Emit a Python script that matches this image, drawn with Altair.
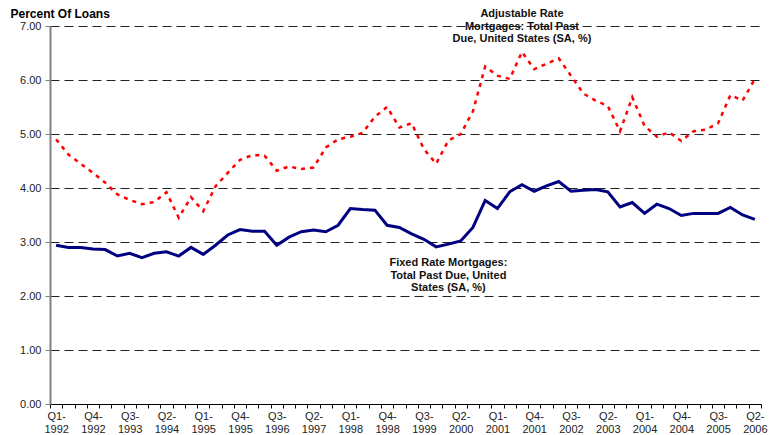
import altair as alt
import pandas as pd

quarters = [
    "Q1-1992", "Q2-1992", "Q3-1992", "Q4-1992",
    "Q1-1993", "Q2-1993", "Q3-1993", "Q4-1993",
    "Q1-1994", "Q2-1994", "Q3-1994", "Q4-1994",
    "Q1-1995", "Q2-1995", "Q3-1995", "Q4-1995",
    "Q1-1996", "Q2-1996", "Q3-1996", "Q4-1996",
    "Q1-1997", "Q2-1997", "Q3-1997", "Q4-1997",
    "Q1-1998", "Q2-1998", "Q3-1998", "Q4-1998",
    "Q1-1999", "Q2-1999", "Q3-1999", "Q4-1999",
    "Q1-2000", "Q2-2000", "Q3-2000", "Q4-2000",
    "Q1-2001", "Q2-2001", "Q3-2001", "Q4-2001",
    "Q1-2002", "Q2-2002", "Q3-2002", "Q4-2002",
    "Q1-2003", "Q2-2003", "Q3-2003", "Q4-2003",
    "Q1-2004", "Q2-2004", "Q3-2004", "Q4-2004",
    "Q1-2005", "Q2-2005", "Q3-2005", "Q4-2005",
    "Q1-2006", "Q2-2006",
]

fixed_rate = [
    2.94, 2.90, 2.90, 2.87, 2.86, 2.74, 2.79, 2.71, 2.79, 2.82,
    2.74, 2.90, 2.77, 2.94, 3.13, 3.23, 3.20, 3.20, 2.94, 3.09,
    3.19, 3.22, 3.19, 3.31, 3.62, 3.60, 3.59, 3.31, 3.27, 3.15,
    3.05, 2.91, 2.96, 3.02, 3.27, 3.77, 3.62, 3.93, 4.06, 3.94,
    4.04, 4.12, 3.94, 3.96, 3.97, 3.93, 3.65, 3.73, 3.53, 3.70,
    3.62, 3.49, 3.53, 3.53, 3.53, 3.64, 3.50, 3.42,
]

adjustable_rate = [
    4.90, 4.62, 4.45, 4.28, 4.10, 3.88, 3.78, 3.70, 3.74, 3.92,
    3.45, 3.83, 3.57, 4.03, 4.28, 4.52, 4.61, 4.60, 4.32, 4.40,
    4.35, 4.38, 4.75, 4.90, 4.95, 5.02, 5.32, 5.50, 5.12, 5.20,
    4.72, 4.45, 4.88, 5.00, 5.42, 6.25, 6.08, 6.02, 6.52, 6.20,
    6.30, 6.40, 6.08, 5.75, 5.62, 5.52, 5.05, 5.68, 5.15, 4.95,
    5.03, 4.87, 5.05, 5.08, 5.20, 5.72, 5.62, 6.02,
]

y_ticks = [0, 1, 2, 3, 4, 5, 6, 7]

arm_label = "Adjustable Rate\nMortgages: Total Past\nDue, United States (SA, %)"
frm_label = "Fixed Rate Mortgages:\nTotal Past Due, United\nStates (SA, %)"

df = pd.DataFrame({"q": quarters, "fixed": fixed_rate, "arm": adjustable_rate})
ann = pd.DataFrame({
    "q": ["Q3-2001", "Q1-2000"],
    "v": [7.22, 2.61],
    "t": [arm_label, frm_label],
})

FONT = "Liberation Sans"

label_expr = (
    "(((toNumber(substring(datum.value,3,7))-1992)*4 + toNumber(substring(datum.value,1,2)) - 1) % 3 == 0)"
    " ? [substring(datum.value,0,3), substring(datum.value,3,7)] : ''"
)

x_enc = alt.X(
    "q:O",
    sort=quarters,
    bandPosition=0.5,
    scale=alt.Scale(type="band", paddingInner=0, paddingOuter=0, domain=quarters),
    axis=alt.Axis(
        title=None,
        tickBand="extent",
        labelExpr=label_expr,
        labelAngle=0,
        labelOverlap=False,
        labelBound=False,
        labelFont=FONT,
        labelFontSize=11,
        labelColor="#222222",
        labelLineHeight=13,
        labelPadding=2,
        tickSize=4,
        tickColor="#000000",
        domainColor="#000000",
        domainWidth=1,
        grid=False,
    ),
)

y_scale = alt.Scale(domain=[0, 7], nice=False)

base = alt.Chart(df)

grid_axis = alt.Axis(
    values=y_ticks,
    format=".2f",
    title="Percent Of Loans",
    titleAngle=0,
    titleAlign="left",
    titleBaseline="middle",
    titleX=-40,
    titleY=-13,
    titleFont=FONT,
    titleFontSize=12,
    titleFontWeight="bold",
    titleColor="#000000",
    labelFont=FONT,
    labelFontSize=11,
    labelColor="#222222",
    labelPadding=4,
    tickSize=5,
    tickColor="#808080",
    domainColor="#808080",
    domainWidth=2,
    grid=True,
    gridColor="#222222",
    gridDash=[9, 5],
    gridWidth=1,
)

fixed_line = base.mark_line(color="#000080", strokeWidth=3).encode(
    x=x_enc,
    y=alt.Y("fixed:Q", scale=y_scale, axis=grid_axis),
)

arm_line = base.mark_line(color="#FF0000", strokeWidth=2.5, strokeDash=[4, 5]).encode(
    x=x_enc,
    y=alt.Y("arm:Q", scale=y_scale),
)

labels = alt.Chart(ann).mark_text(
    font=FONT,
    fontSize=11,
    fontWeight="bold",
    color="#111111",
    lineBreak="\n",
    lineHeight=12.5,
    align="center",
    baseline="middle",
).encode(
    x=alt.X("q:O", sort=quarters, bandPosition=0.5),
    y=alt.Y("v:Q", scale=y_scale),
    text="t:N",
)

chart = (
    alt.layer(fixed_line, arm_line, labels)
    .properties(
        width=711,
        height=378,
        autosize=alt.AutoSizeParams(type="none"),
        padding={"left": 42, "top": 18, "right": 8, "bottom": 30},
        background="#ffffff",
    )
    .configure_view(stroke=None)
)

chart.save("out.html", embed_options={"renderer": "svg", "actions": False})
